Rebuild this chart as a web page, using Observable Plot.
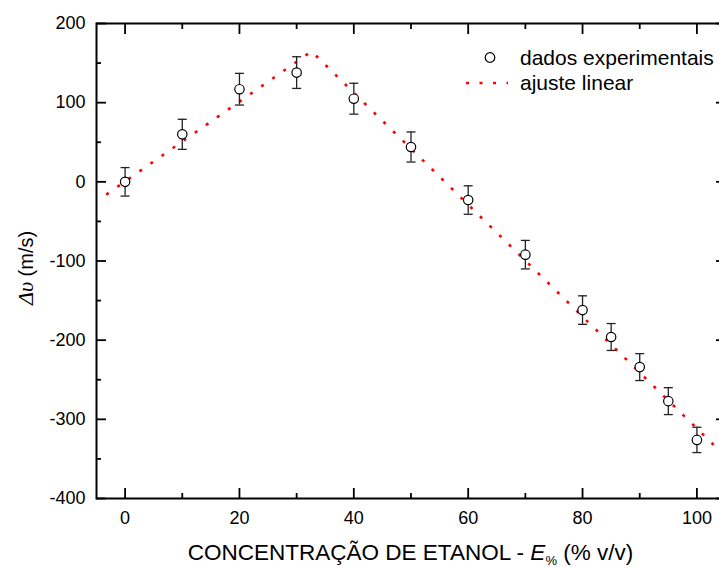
<!DOCTYPE html>
<html>
<head>
<meta charset="utf-8">
<script src="https://cdn.jsdelivr.net/npm/d3@7"></script>
<script src="https://cdn.jsdelivr.net/npm/@observablehq/plot@0.6"></script>
<style>
  html, body { margin: 0; padding: 0; background: #fff; overflow: hidden; }
  #chart svg { display: block; }
</style>
</head>
<body>
<div id="chart"></div>
<script>
// Ethanol concentration (% v/v) and measured speed change Δυ (m/s)
const concentration = [0, 10, 20, 30, 40, 50, 60, 70, 80, 85, 90, 95, 100];
const deltaV        = [0, 60, 117, 138, 105, 44, -23, -92, -162, -196, -234, -277, -326];
const deltaVErr     = [18, 19, 20, 20, 19.5, 19, 18, 18, 18, 17, 17, 17, 16];

// Two-segment linear fit (vertices)
const fitX = [-3.3, 32.6, 105];
const fitY = [-16.1, 164.8, -346.9];

// Axis ticks
const xMajorTicks = [0, 20, 40, 60, 80, 100];
const xMinorTicks = [10, 30, 50, 70, 90];
const yMajorTicks = [-400, -300, -200, -100, 0, 100, 200];
const yMinorTicks = [-350, -250, -150, -50, 50, 150];

const legendLabels = ["dados experimentais", "ajuste linear"];
const xTitle = ["CONCENTRAÇÃO DE ETANOL - ", "E", "%", " (% v/v)"];
const yTitle = ["Δυ", " (m/s)"];

const sans = "'Liberation Sans', Arial, sans-serif";

const points = concentration.map((x, i) => ({
  x, y: deltaV[i], lo: deltaV[i] - deltaVErr[i], hi: deltaV[i] + deltaVErr[i]
}));
const fit = fitX.map((x, i) => ({x, y: fitY[i]}));

// horizontal cap for the error bars
const cap = {
  draw(context, size) {
    const r = Math.sqrt(size / Math.PI);
    context.moveTo(-r, 0);
    context.lineTo(r, 0);
  }
};

const blank = () => "";
const axisStyle = {stroke: "#000", strokeWidth: 1.8, strokeLinecap: "butt"};
const labelStyle = {fill: "#000", fontSize: 18, fontFamily: sans};

const chart = Plot.plot({
  width: 719,
  height: 567,
  marginLeft: 96,
  marginRight: -6,
  marginTop: 23,
  marginBottom: 69,
  style: {fontFamily: sans, fontSize: "18px", color: "#000", background: "#fff", overflow: "hidden"},
  x: {domain: [-5, 105], label: null},
  y: {domain: [-400, 200], label: null},
  marks: [
    Plot.line(fit, {x: "x", y: "y", stroke: "#ff0000", strokeWidth: 2.6, strokeLinecap: "butt", strokeDasharray: "3,10.5", clip: true}),
    Plot.ruleX(points, {x: "x", y1: "lo", y2: "hi", stroke: "#222", strokeWidth: 1.3}),
    Plot.dot(points, {x: "x", y: "lo", symbol: cap, r: 4.5, stroke: "#222", strokeWidth: 1.3}),
    Plot.dot(points, {x: "x", y: "hi", symbol: cap, r: 4.5, stroke: "#222", strokeWidth: 1.3}),
    Plot.dot(points, {x: "x", y: "y", r: 4.7, fill: "#fff", stroke: "#000", strokeWidth: 1.2}),

    // inward ticks on all four sides
    Plot.axisX(xMajorTicks, {anchor: "bottom", tickSize: -10, tickFormat: blank, ...axisStyle}),
    Plot.axisX(xMinorTicks, {anchor: "bottom", tickSize: -5, tickFormat: blank, ...axisStyle}),
    Plot.axisX(xMajorTicks, {anchor: "top", tickSize: -10, tickFormat: blank, ...axisStyle}),
    Plot.axisX(xMinorTicks, {anchor: "top", tickSize: -5, tickFormat: blank, ...axisStyle}),
    Plot.axisY(yMajorTicks, {anchor: "left", tickSize: -10, tickFormat: blank, ...axisStyle}),
    Plot.axisY(yMinorTicks, {anchor: "left", tickSize: -5, tickFormat: blank, ...axisStyle}),
    Plot.axisY(yMajorTicks, {anchor: "right", tickSize: -10, tickFormat: blank, ...axisStyle}),
    Plot.axisY(yMinorTicks, {anchor: "right", tickSize: -5, tickFormat: blank, ...axisStyle}),

    // tick labels
    Plot.axisX(xMajorTicks, {anchor: "bottom", tickSize: 0, tickPadding: 13, tickFormat: d => String(d), ...labelStyle}),
    Plot.axisY(yMajorTicks, {anchor: "left", tickSize: 0, tickPadding: 11, tickFormat: d => String(d), ...labelStyle}),

    Plot.frame({stroke: "#000", strokeWidth: 2})
  ]
});

document.getElementById("chart").append(chart);

const svg = d3.select(chart);

// x-axis title
const xt = svg.append("text")
  .attr("x", 410.5).attr("y", 560)
  .attr("text-anchor", "middle")
  .style("font-family", sans).style("font-size", "22.5px").attr("fill", "#000");
xt.append("tspan").text(xTitle[0]);
xt.append("tspan").style("font-style", "italic").text(xTitle[1]);
xt.append("tspan").style("font-size", "13px").attr("dy", 5).text(xTitle[2]);
xt.append("tspan").attr("dy", -5).text(xTitle[3]);

// y-axis title
const yt = svg.append("text")
  .attr("transform", "translate(33,305) rotate(-90)")
  .attr("text-anchor", "start")
  .style("font-family", sans).style("font-size", "20px").attr("fill", "#000");
yt.append("tspan").style("font-family", "'Liberation Serif', serif").style("font-style", "italic").style("font-size", "22px").text(yTitle[0]);
yt.append("tspan").text(yTitle[1]);

// legend
const lg = svg.append("g")
  .attr("text-anchor", "start")
  .style("font-family", sans).style("font-size", "21px").attr("fill", "#000");
lg.append("circle").attr("cx", 490).attr("cy", 57.5).attr("r", 4.8)
  .attr("fill", "#fff").attr("stroke", "#000").attr("stroke-width", 1.2);
lg.append("text").attr("x", 520).attr("y", 65).text(legendLabels[0]);
lg.append("line").attr("x1", 466).attr("x2", 508).attr("y1", 83).attr("y2", 83)
  .attr("stroke", "#ff0000").attr("stroke-width", 2.6).attr("stroke-dasharray", "3,10.5");
lg.append("text").attr("x", 520).attr("y", 89.5).text(legendLabels[1]);
</script>
</body>
</html>
